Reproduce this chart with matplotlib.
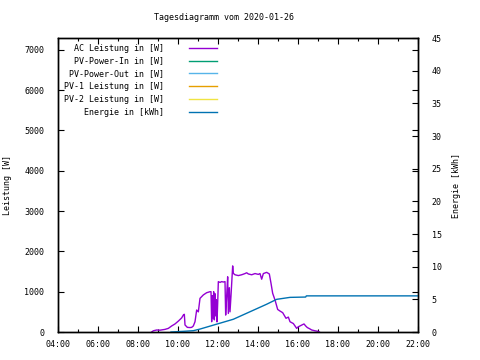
import matplotlib
matplotlib.use("Agg")
import matplotlib.pyplot as plt
import matplotlib.dates as mdates
import pandas as pd

DAY = "2020-01-26"
title = "Tagesdiagramm vom 2020-01-26"

ac_times = ["08:41","08:46","08:56","09:06","09:21","09:31","09:41","09:51","10:01","10:11",
            "10:16","10:19","10:21","10:28","10:36","10:41","10:46","10:51","10:56","11:01",
            "11:06","11:16","11:26","11:36","11:39","11:41","11:43","11:45","11:47","11:49",
            "11:51","11:53","11:55","11:57","11:59","12:01","12:06","12:11","12:16","12:21",
            "12:23","12:26","12:29","12:31","12:34","12:36","12:39","12:44","12:46","12:51",
            "13:01","13:11","13:21","13:26","13:31","13:41","13:51","14:01","14:06","14:11",
            "14:16","14:26","14:34","14:39","14:44","14:51","14:59","15:06","15:14","15:24",
            "15:31","15:36","15:46","15:56","16:01","16:06","16:13","16:18","16:23","16:28",
            "16:35","16:41","16:51","17:01","17:04"]
ac_power = [0,30,50,45,65,90,150,200,270,350,
            420,440,175,115,110,115,150,255,545,500,
            835,920,975,1000,1000,255,900,350,1000,300,
            950,400,800,250,700,1250,1230,1250,1240,1250,
            420,900,1370,460,1100,500,900,1640,1455,1420,
            1400,1420,1450,1470,1440,1420,1450,1430,1450,1310,
            1450,1480,1440,1210,960,795,560,520,480,340,
            370,255,210,90,130,150,180,200,150,110,
            80,50,30,15,0]

en_times = ["09:39","10:16","10:46","11:06","11:36","12:06","12:46","13:36","14:26","14:56",
            "15:36","16:23","16:25","22:00"]
energy = [0,0.1,0.2,0.45,0.9,1.35,1.95,3.1,4.25,5.0,
          5.3,5.35,5.53,5.53]

labels = ["AC Leistung in [W]", "PV-Power-In in [W]", "PV-Power-Out in [W]",
          "PV-1 Leistung in [W]", "PV-2 Leistung in [W]", "Energie in [kWh]"]
colors = ["#9400d3", "#009e73", "#56b4e9", "#e69f00", "#f0e442", "#0072b2"]

FONT = "DejaVu Sans Mono"
FS = 6

def to_dt(ts):
    return pd.to_datetime([f"{DAY} {t}" for t in ts])

fig = plt.figure(figsize=(4.8, 3.6), dpi=100)
ax = fig.add_axes([58/480, 1-332/360, 360/480, 294/360])
ax2 = ax.twinx()

h_ac, = ax.plot(to_dt(ac_times), ac_power, color=colors[0], lw=1.0, label=labels[0])
h_in, = ax.plot([], [], color=colors[1], lw=1.0, label=labels[1])
h_out, = ax.plot([], [], color=colors[2], lw=1.0, label=labels[2])
h_p1, = ax.plot([], [], color=colors[3], lw=1.0, label=labels[3])
h_p2, = ax.plot([], [], color=colors[4], lw=1.0, label=labels[4])
h_en, = ax2.plot(to_dt(en_times), energy, color=colors[5], lw=1.0, label=labels[5])

ax.set_xlim(pd.Timestamp(f"{DAY} 04:00"), pd.Timestamp(f"{DAY} 22:00"))
ax.set_ylim(0, 7295)
ax2.set_ylim(0, 45)

ax.xaxis.set_major_locator(mdates.HourLocator(byhour=range(0, 24, 2)))
ax.xaxis.set_minor_locator(mdates.HourLocator())
ax.xaxis.set_major_formatter(mdates.DateFormatter("%H:%M"))
ax.set_yticks(range(0, 8000, 1000))
ax2.set_yticks(range(0, 50, 5))

for a in (ax, ax2):
    for s in a.spines.values():
        s.set_linewidth(1.0)
ax.tick_params(axis="both", which="major", direction="in", length=4, width=0.8,
               top=True, right=True, labelsize=FS, pad=6)
ax.tick_params(axis="x", which="minor", direction="in", length=2, width=0.8, top=True)
ax.tick_params(axis="y", pad=10)
ax2.tick_params(axis="y", direction="in", length=4, width=0.8, labelsize=FS, pad=10)
for lab in ax.get_xticklabels() + ax.get_yticklabels() + ax2.get_yticklabels():
    lab.set_family(FONT)

ax.set_ylabel("Leistung [W]", fontsize=FS, family=FONT)
ax2.set_ylabel("Energie [kWh]", fontsize=FS, family=FONT)
ax.yaxis.set_label_coords((12 - 58) / 360, 0.5)
ax2.yaxis.set_label_coords((452 - 58) / 360, 0.5)
fig.text(224/480, 1-17/360, title, fontsize=FS, family=FONT, ha="center", va="center")

width = max(len(l) for l in labels)
handles = [h_ac, h_in, h_out, h_p1, h_p2, h_en]
leg = ax.legend(handles, [l.rjust(width) for l in labels], loc="upper left",
                bbox_to_anchor=(0.0, 1.0), frameon=False, markerfirst=False,
                prop={"family": FONT, "size": FS}, handlelength=3.4, handletextpad=3.0,
                labelspacing=0.45, borderaxespad=0.3)

fig.savefig("out.png", dpi=100)
